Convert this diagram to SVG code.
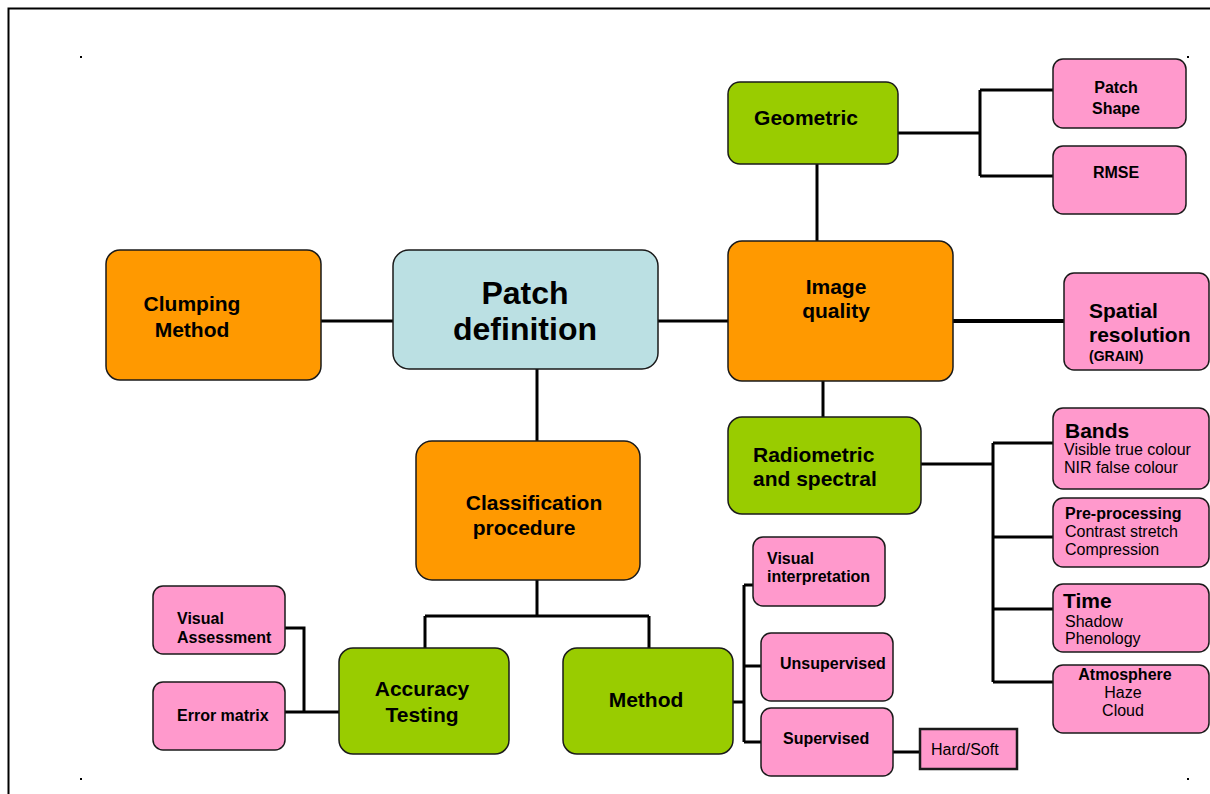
<svg xmlns="http://www.w3.org/2000/svg" width="1210" height="794" viewBox="0 0 1210 794">
<style>
.box{stroke:#1a1a1a;stroke-width:1.5}
.or{fill:#FF9900}.gr{fill:#99CC00}.pk{fill:#FF99CC}.bl{fill:#BBE0E3}
text{font-family:"Liberation Sans",Arial,sans-serif;fill:#000}
.b{font-weight:bold}
.c{text-anchor:middle}
.ln{fill:none;stroke:#000;stroke-width:3}
</style>
<rect x="0" y="0" width="1210" height="794" fill="#fff"/>
<path d="M8.5 794 V8.5 H1210" fill="none" stroke="#000" stroke-width="2"/>
<rect x="80" y="56" width="2" height="2" fill="#000"/>
<rect x="1187" y="56" width="2" height="2" fill="#000"/>
<rect x="80" y="778" width="2" height="2" fill="#000"/>
<rect x="1187" y="778" width="2" height="2" fill="#000"/>

<g id="connectors">
<path class="ln" d="M321 321 H393"/>
<path class="ln" d="M658 321 H728"/>
<path class="ln" d="M817 164 V241"/>
<path class="ln" d="M898 133 H980 M980 90 V176 M980 90 H1053 M980 176 H1053"/>
<path class="ln" style="stroke-width:4" d="M953 321 H1064"/>
<path class="ln" d="M823 381 V417"/>
<path class="ln" d="M921 464 H993 M993 443 V682 M993 443 H1053 M993 537 H1053 M993 609 H1053 M993 682 H1053"/>
<path class="ln" d="M537 369 V441"/>
<path class="ln" d="M537 580 V616 M425 616 H649 M425 616 V648 M649 616 V648"/>
<path class="ln" d="M285 628 H304 V712 M285 712 H339"/>
<path class="ln" d="M733 702 H744 M744 585 V742 M744 585 H753 M744 666 H761 M744 742 H761"/>
<path class="ln" d="M893 752 H920"/>
</g>

<g id="geometric"><rect class="box gr" x="728" y="82" width="170" height="82" rx="12"/>
<text class="b c" x="806" y="125" font-size="21">Geometric</text></g>
<g id="patch-shape"><rect class="box pk" x="1053" y="59" width="133" height="69" rx="10"/>
<text class="b c" x="1116" y="93" font-size="16">Patch</text><text class="b c" x="1116" y="114" font-size="16">Shape</text></g>
<g id="rmse"><rect class="box pk" x="1053" y="146" width="133" height="68" rx="10"/>
<text class="b c" x="1116" y="178" font-size="16">RMSE</text></g>
<g id="image-quality"><rect class="box or" x="728" y="241" width="225" height="140" rx="14"/>
<text class="b c" x="836" y="294" font-size="21">Image</text><text class="b c" x="836" y="318" font-size="21">quality</text></g>
<g id="spatial-resolution"><rect class="box pk" x="1064" y="273" width="145" height="97" rx="10"/>
<text class="b" x="1089" y="318" font-size="21">Spatial</text><text class="b" x="1089" y="342" font-size="21">resolution</text>
<text class="b" x="1089" y="361" font-size="14">(GRAIN)</text></g>
<g id="radiometric"><rect class="box gr" x="728" y="417" width="193" height="97" rx="14"/>
<text class="b" x="753" y="462" font-size="21">Radiometric</text><text class="b" x="753" y="486" font-size="21">and spectral</text></g>
<g id="bands"><rect class="box pk" x="1053" y="408" width="156" height="81" rx="10"/>
<text class="b" x="1065" y="438" font-size="21">Bands</text>
<text x="1064" y="455" font-size="16">Visible true colour</text><text x="1064" y="473" font-size="16">NIR false colour</text></g>
<g id="pre-processing"><rect class="box pk" x="1053" y="498" width="156" height="69" rx="10"/>
<text class="b" x="1065" y="519" font-size="16">Pre-processing</text>
<text x="1065" y="537" font-size="16">Contrast stretch</text><text x="1065" y="555" font-size="16">Compression</text></g>
<g id="time"><rect class="box pk" x="1053" y="584" width="156" height="68" rx="10"/>
<text class="b" x="1063" y="608" font-size="21">Time</text>
<text x="1065" y="627" font-size="16">Shadow</text><text x="1065" y="644" font-size="16">Phenology</text></g>
<g id="atmosphere"><rect class="box pk" x="1053" y="665" width="156" height="68" rx="10"/>
<text class="b c" x="1125" y="680" font-size="16">Atmosphere</text>
<text class="c" x="1123" y="698" font-size="16">Haze</text><text class="c" x="1123" y="716" font-size="16">Cloud</text></g>
<g id="patch-definition"><rect class="box bl" x="393" y="250" width="265" height="119" rx="16"/>
<text class="b c" x="525" y="304" font-size="32">Patch</text><text class="b c" x="525" y="340" font-size="32">definition</text></g>
<g id="clumping-method"><rect class="box or" x="106" y="250" width="215" height="130" rx="14"/>
<text class="b c" x="192" y="311" font-size="21">Clumping</text><text class="b c" x="192" y="337" font-size="21">Method</text></g>
<g id="classification-procedure"><rect class="box or" x="416" y="441" width="224" height="139" rx="16"/>
<text class="b c" x="534" y="510" font-size="21">Classification</text><text class="b c" x="524" y="535" font-size="21">procedure</text></g>
<g id="accuracy-testing"><rect class="box gr" x="339" y="648" width="170" height="106" rx="14"/>
<text class="b c" x="422" y="696" font-size="21">Accuracy</text><text class="b c" x="422" y="722" font-size="21">Testing</text></g>
<g id="method"><rect class="box gr" x="563" y="648" width="170" height="106" rx="14"/>
<text class="b c" x="646" y="707" font-size="21">Method</text></g>
<g id="visual-assessment"><rect class="box pk" x="153" y="586" width="132" height="68" rx="10"/>
<text class="b" x="177" y="624" font-size="16">Visual</text><text class="b" x="177" y="643" font-size="16">Assessment</text></g>
<g id="error-matrix"><rect class="box pk" x="153" y="682" width="132" height="68" rx="10"/>
<text class="b" x="177" y="721" font-size="16">Error matrix</text></g>
<g id="visual-interpretation"><rect class="box pk" x="753" y="537" width="132" height="69" rx="10"/>
<text class="b" x="767" y="564" font-size="16">Visual</text><text class="b" x="767" y="582" font-size="16">interpretation</text></g>
<g id="unsupervised"><rect class="box pk" x="761" y="633" width="132" height="68" rx="10"/>
<text class="b" x="780" y="669" font-size="16">Unsupervised</text></g>
<g id="supervised"><rect class="box pk" x="761" y="708" width="132" height="68" rx="10"/>
<text class="b" x="783" y="744" font-size="16">Supervised</text></g>
<g id="hard-soft"><rect class="pk" x="920" y="729" width="97" height="40" stroke="#1a1a1a" stroke-width="2.5"/>
<text x="931" y="755" font-size="16">Hard/Soft</text></g>
</svg>
